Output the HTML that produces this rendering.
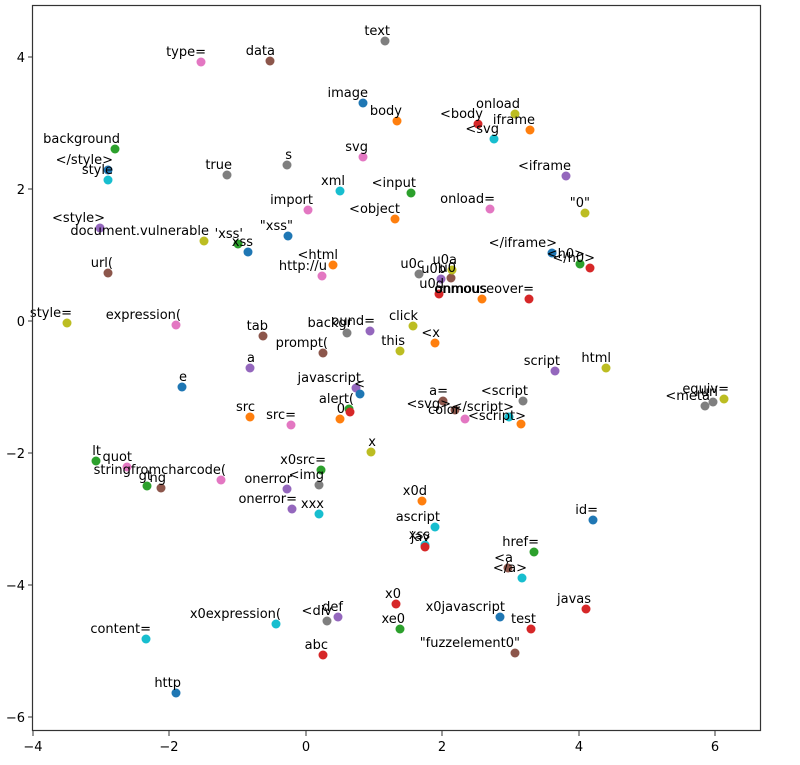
<!DOCTYPE html>
<html><head><meta charset="utf-8"><style>
body{margin:0;background:#fff}
svg{display:block}
text{font-family:"DejaVu Sans","Liberation Sans",sans-serif;font-size:13px;fill:#000}
</style></head><body>
<svg width="800" height="765" viewBox="0 0 800 765" xmlns="http://www.w3.org/2000/svg">
<rect x="0" y="0" width="800" height="765" fill="#fff"/>
<g>
<circle cx="385" cy="41" r="4.5" fill="#7f7f7f"/>
<circle cx="201" cy="62" r="4.5" fill="#e377c2"/>
<circle cx="270" cy="61" r="4.5" fill="#8c564b"/>
<circle cx="363" cy="103" r="4.5" fill="#1f77b4"/>
<circle cx="397" cy="121" r="4.5" fill="#ff7f0e"/>
<circle cx="515" cy="114" r="4.5" fill="#bcbd22"/>
<circle cx="478" cy="124" r="4.5" fill="#d62728"/>
<circle cx="530" cy="130" r="4.5" fill="#ff7f0e"/>
<circle cx="494" cy="139" r="4.5" fill="#17becf"/>
<circle cx="115" cy="149" r="4.5" fill="#2ca02c"/>
<circle cx="108" cy="170" r="4.5" fill="#1f77b4"/>
<circle cx="108" cy="180" r="4.5" fill="#17becf"/>
<circle cx="227" cy="175" r="4.5" fill="#7f7f7f"/>
<circle cx="287" cy="165" r="4.5" fill="#7f7f7f"/>
<circle cx="363" cy="157" r="4.5" fill="#e377c2"/>
<circle cx="340" cy="191" r="4.5" fill="#17becf"/>
<circle cx="411" cy="193" r="4.5" fill="#2ca02c"/>
<circle cx="566" cy="176" r="4.5" fill="#9467bd"/>
<circle cx="308" cy="210" r="4.5" fill="#e377c2"/>
<circle cx="395" cy="219" r="4.5" fill="#ff7f0e"/>
<circle cx="490" cy="209" r="4.5" fill="#e377c2"/>
<circle cx="585" cy="213" r="4.5" fill="#bcbd22"/>
<circle cx="100" cy="228" r="4.5" fill="#9467bd"/>
<circle cx="204" cy="241" r="4.5" fill="#bcbd22"/>
<circle cx="238" cy="244" r="4.5" fill="#2ca02c"/>
<circle cx="248" cy="252" r="4.5" fill="#1f77b4"/>
<circle cx="288" cy="236" r="4.5" fill="#1f77b4"/>
<circle cx="552" cy="253" r="4.5" fill="#1f77b4"/>
<circle cx="580" cy="264" r="4.5" fill="#2ca02c"/>
<circle cx="590" cy="268" r="4.5" fill="#d62728"/>
<circle cx="333" cy="265" r="4.5" fill="#ff7f0e"/>
<circle cx="322" cy="276" r="4.5" fill="#e377c2"/>
<circle cx="419" cy="274" r="4.5" fill="#7f7f7f"/>
<circle cx="441" cy="279" r="4.5" fill="#9467bd"/>
<circle cx="451" cy="278" r="4.5" fill="#8c564b"/>
<circle cx="452" cy="270" r="4.5" fill="#bcbd22"/>
<circle cx="439" cy="294" r="4.5" fill="#d62728"/>
<circle cx="482" cy="299" r="4.5" fill="#ff7f0e"/>
<circle cx="529" cy="299" r="4.5" fill="#d62728"/>
<circle cx="108" cy="273" r="4.5" fill="#8c564b"/>
<circle cx="67" cy="323" r="4.5" fill="#bcbd22"/>
<circle cx="176" cy="325" r="4.5" fill="#e377c2"/>
<circle cx="263" cy="336" r="4.5" fill="#8c564b"/>
<circle cx="347" cy="333" r="4.5" fill="#7f7f7f"/>
<circle cx="370" cy="331" r="4.5" fill="#9467bd"/>
<circle cx="413" cy="326" r="4.5" fill="#bcbd22"/>
<circle cx="435" cy="343" r="4.5" fill="#ff7f0e"/>
<circle cx="323" cy="353" r="4.5" fill="#8c564b"/>
<circle cx="400" cy="351" r="4.5" fill="#bcbd22"/>
<circle cx="250" cy="368" r="4.5" fill="#9467bd"/>
<circle cx="182" cy="387" r="4.5" fill="#1f77b4"/>
<circle cx="555" cy="371" r="4.5" fill="#9467bd"/>
<circle cx="606" cy="368" r="4.5" fill="#bcbd22"/>
<circle cx="356" cy="388" r="4.5" fill="#9467bd"/>
<circle cx="360" cy="394" r="4.5" fill="#1f77b4"/>
<circle cx="349" cy="409" r="4.5" fill="#2ca02c"/>
<circle cx="350" cy="412" r="4.5" fill="#d62728"/>
<circle cx="340" cy="419" r="4.5" fill="#ff7f0e"/>
<circle cx="443" cy="401" r="4.5" fill="#8c564b"/>
<circle cx="455" cy="410" r="4.5" fill="#8c564b"/>
<circle cx="523" cy="401" r="4.5" fill="#7f7f7f"/>
<circle cx="509" cy="417" r="4.5" fill="#17becf"/>
<circle cx="521" cy="424" r="4.5" fill="#ff7f0e"/>
<circle cx="465" cy="419" r="4.5" fill="#e377c2"/>
<circle cx="724" cy="399" r="4.5" fill="#bcbd22"/>
<circle cx="713" cy="402" r="4.5" fill="#7f7f7f"/>
<circle cx="705" cy="406" r="4.5" fill="#7f7f7f"/>
<circle cx="250" cy="417" r="4.5" fill="#ff7f0e"/>
<circle cx="291" cy="425" r="4.5" fill="#e377c2"/>
<circle cx="371" cy="452" r="4.5" fill="#bcbd22"/>
<circle cx="96" cy="461" r="4.5" fill="#2ca02c"/>
<circle cx="127" cy="467" r="4.5" fill="#e377c2"/>
<circle cx="221" cy="480" r="4.5" fill="#e377c2"/>
<circle cx="147" cy="486" r="4.5" fill="#2ca02c"/>
<circle cx="161" cy="488" r="4.5" fill="#8c564b"/>
<circle cx="321" cy="470" r="4.5" fill="#2ca02c"/>
<circle cx="319" cy="485" r="4.5" fill="#7f7f7f"/>
<circle cx="287" cy="489" r="4.5" fill="#9467bd"/>
<circle cx="292" cy="509" r="4.5" fill="#9467bd"/>
<circle cx="319" cy="514" r="4.5" fill="#17becf"/>
<circle cx="422" cy="501" r="4.5" fill="#ff7f0e"/>
<circle cx="435" cy="527" r="4.5" fill="#17becf"/>
<circle cx="593" cy="520" r="4.5" fill="#1f77b4"/>
<circle cx="425" cy="545" r="4.5" fill="#17becf"/>
<circle cx="425" cy="547" r="4.5" fill="#d62728"/>
<circle cx="534" cy="552" r="4.5" fill="#2ca02c"/>
<circle cx="508" cy="568" r="4.5" fill="#8c564b"/>
<circle cx="522" cy="578" r="4.5" fill="#17becf"/>
<circle cx="396" cy="604" r="4.5" fill="#d62728"/>
<circle cx="500" cy="617" r="4.5" fill="#1f77b4"/>
<circle cx="531" cy="629" r="4.5" fill="#d62728"/>
<circle cx="586" cy="609" r="4.5" fill="#d62728"/>
<circle cx="400" cy="629" r="4.5" fill="#2ca02c"/>
<circle cx="276" cy="624" r="4.5" fill="#17becf"/>
<circle cx="338" cy="617" r="4.5" fill="#9467bd"/>
<circle cx="327" cy="621" r="4.5" fill="#7f7f7f"/>
<circle cx="146" cy="639" r="4.5" fill="#17becf"/>
<circle cx="323" cy="655" r="4.5" fill="#d62728"/>
<circle cx="515" cy="653" r="4.5" fill="#8c564b"/>
<circle cx="176" cy="693" r="4.5" fill="#1f77b4"/>
</g>
<g text-anchor="end">
<text x="390" y="35">text</text>
<text x="206" y="56">type=</text>
<text x="275" y="55">data</text>
<text x="368" y="97">image</text>
<text x="402" y="115">body</text>
<text x="520" y="108">onload</text>
<text x="483" y="118">&lt;body</text>
<text x="535" y="124">iframe</text>
<text x="499" y="133">&lt;svg</text>
<text x="120" y="143">background</text>
<text x="113" y="164">&lt;/style&gt;</text>
<text x="113" y="174">style</text>
<text x="232" y="169">true</text>
<text x="292" y="159">s</text>
<text x="368" y="151">svg</text>
<text x="345" y="185">xml</text>
<text x="416" y="187">&lt;input</text>
<text x="571" y="170">&lt;iframe</text>
<text x="313" y="204">import</text>
<text x="400" y="213">&lt;object</text>
<text x="495" y="203">onload=</text>
<text x="590" y="207">"0"</text>
<text x="105" y="222">&lt;style&gt;</text>
<text x="209" y="235">document.vulnerable</text>
<text x="243" y="238">'xss'</text>
<text x="253" y="246">xss</text>
<text x="293" y="230">"xss"</text>
<text x="557" y="247">&lt;/iframe&gt;</text>
<text x="585" y="258">&lt;h0&gt;</text>
<text x="595" y="262">&lt;/h0&gt;</text>
<text x="338" y="259">&lt;html</text>
<text x="327" y="270">http://u</text>
<text x="424" y="268">u0c</text>
<text x="457" y="264">u0a</text>
<text x="446" y="273">u0b</text>
<text x="456" y="272">u0</text>
<text x="444" y="288">u0d</text>
<text x="487" y="293">onmous</text>
<text x="534" y="293">onmouseover=</text>
<text x="113" y="267">url(</text>
<text x="72" y="317">style=</text>
<text x="181" y="319">expression(</text>
<text x="268" y="330">tab</text>
<text x="352" y="327">backgr</text>
<text x="375" y="325">ound=</text>
<text x="418" y="320">click</text>
<text x="440" y="337">&lt;x</text>
<text x="328" y="347">prompt(</text>
<text x="405" y="345">this</text>
<text x="255" y="362">a</text>
<text x="187" y="381">e</text>
<text x="560" y="365">script</text>
<text x="611" y="362">html</text>
<text x="361" y="382">javascript</text>
<text x="365" y="388">&lt;</text>
<text x="354" y="403">alert(</text>
<text x="345" y="413">0</text>
<text x="448" y="395">a=</text>
<text x="451" y="408">&lt;svg&gt;</text>
<text x="460" y="414">color</text>
<text x="528" y="395">&lt;script</text>
<text x="514" y="411">&lt;/script&gt;</text>
<text x="526" y="420">&lt;script&gt;</text>
<text x="729" y="393">equiv=</text>
<text x="718" y="396">url</text>
<text x="710" y="400">&lt;meta</text>
<text x="255" y="411">src</text>
<text x="296" y="419">src=</text>
<text x="376" y="446">x</text>
<text x="101" y="455">lt</text>
<text x="132" y="461">quot</text>
<text x="226" y="474">stringfromcharcode(</text>
<text x="152" y="480">gt</text>
<text x="166" y="482">ng</text>
<text x="326" y="464">x0src=</text>
<text x="324" y="479">&lt;img</text>
<text x="292" y="483">onerror</text>
<text x="297" y="503">onerror=</text>
<text x="324" y="508">xxx</text>
<text x="427" y="495">x0d</text>
<text x="440" y="521">ascript</text>
<text x="598" y="514">id=</text>
<text x="430" y="539">xss</text>
<text x="430" y="541">jav</text>
<text x="539" y="546">href=</text>
<text x="513" y="562">&lt;a</text>
<text x="527" y="572">&lt;/a&gt;</text>
<text x="401" y="598">x0</text>
<text x="505" y="611">x0javascript</text>
<text x="536" y="623">test</text>
<text x="591" y="603">javas</text>
<text x="405" y="623">xe0</text>
<text x="281" y="618">x0expression(</text>
<text x="343" y="611">def</text>
<text x="332" y="615">&lt;div</text>
<text x="151" y="633">content=</text>
<text x="328" y="649">abc</text>
<text x="520" y="647">"fuzzelement0"</text>
<text x="181" y="687">http</text>
</g>
<rect x="32.5" y="5.5" width="728" height="725" fill="none" stroke="#333" stroke-width="1.2"/>
<g stroke="#333" stroke-width="1">
<line x1="33" y1="731" x2="33" y2="736"/><line x1="169" y1="731" x2="169" y2="736"/><line x1="306" y1="731" x2="306" y2="736"/><line x1="442" y1="731" x2="442" y2="736"/><line x1="579" y1="731" x2="579" y2="736"/><line x1="715" y1="731" x2="715" y2="736"/>
<line x1="28" y1="57" x2="33" y2="57"/><line x1="28" y1="189" x2="33" y2="189"/><line x1="28" y1="321" x2="33" y2="321"/><line x1="28" y1="453" x2="33" y2="453"/><line x1="28" y1="585" x2="33" y2="585"/><line x1="28" y1="717" x2="33" y2="717"/>
</g>
<g text-anchor="middle">
<text x="33" y="751">−4</text><text x="169" y="751">−2</text><text x="306" y="751">0</text><text x="442" y="751">2</text><text x="579" y="751">4</text><text x="715" y="751">6</text>
</g>
<g text-anchor="end">
<text x="25" y="62">4</text><text x="25" y="194">2</text><text x="25" y="326">0</text><text x="25" y="458">−2</text><text x="25" y="590">−4</text><text x="25" y="722">−6</text>
</g>
</svg>
</body></html>
